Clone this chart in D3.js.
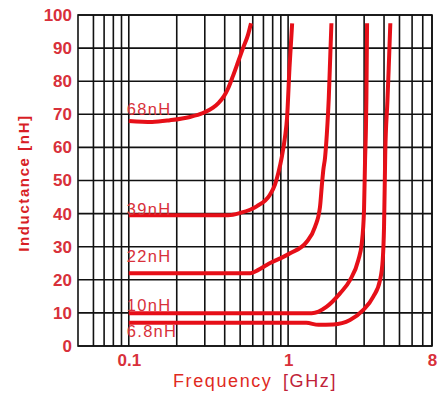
<!DOCTYPE html>
<html>
<head>
<meta charset="utf-8">
<script src="https://cdn.jsdelivr.net/npm/d3@7"></script>
<style>
  body { margin: 0; background: #fff; }
  svg { display: block; }
</style>
</head>
<body>
<script>
// inductance vs frequency
var yTicks = [0, 10, 20, 30, 40, 50, 60, 70, 80, 90, 100];
var xTickLabels = [0.1, 1, 8];
var xGrid = [0.06, 0.07, 0.08, 0.09, 0.1, 0.2, 0.3, 0.4, 0.5, 0.6, 0.7, 0.8, 0.9,
             1, 2, 3, 4, 5, 6, 7, 8];

var seriesNames = ["68nH", "39nH", "22nH", "10nH", "6.8nH"];

var freq68 = [0.1, 0.14, 0.181, 0.242, 0.292, 0.338, 0.365, 0.395, 0.42, 0.451, 0.485, 0.521, 0.56, 0.585];
var ind68  = [68,  67.7, 68.2,  69.2,  70.4,  72,    73.4,  75.4,  77.8, 81.6,  85.8,  90,    94,   97.5];

var freq39 = [0.1, 0.42, 0.5,  0.635, 0.769, 0.828, 0.868, 0.912, 0.955, 0.985, 1.02, 1.06];
var ind39  = [39.5, 39.5, 40.2, 42.2, 45.7,  48.8,  52.3,  57,    63,    69,    84,   97.5];

var freq22 = [0.1, 0.58, 0.65, 0.734, 1.028, 1.309, 1.475, 1.585, 1.626, 1.663, 1.706, 1.75, 1.8, 1.84, 1.87];
var ind22  = [22,  22,   23,   24.5,  28,    31.5,  36,    42,    48.2,  53.2,  57,    64,   75,  88,   97.5];

var freq10 = [0.1, 1.406, 1.747, 2.117, 2.446, 2.759, 2.899, 2.995, 3.04, 3.08, 3.1, 3.13];
var ind10  = [9.9, 9.9,   11.9,  15.9,  19.9,  26,    31,    41,    56,   66,   75,  97.5];

var freq6 = [0.1, 1.3, 1.55, 1.92, 2.446, 2.966, 3.425, 3.775, 3.925, 4.0, 4.07, 4.2, 4.28, 4.38];
var ind6  = [7.0, 7.0, 6.4,  6.5,  7.85,  10.9,  14.9,  19.9,  26,    36,  58,   74,  84,   97.5];

var series = [
  {name: seriesNames[0], f: freq68, v: ind68},
  {name: seriesNames[1], f: freq39, v: ind39},
  {name: seriesNames[2], f: freq22, v: ind22},
  {name: seriesNames[3], f: freq10, v: ind10},
  {name: seriesNames[4], f: freq6,  v: ind6}
];
// label baseline offsets from the flat part of each curve (px above, negative = below)
var labelDy = [6, 0, 11, 2, -14];

var width = 444, height = 397;
var red = "#e60f18", textRed = "#d8303a";

var svg = d3.select("body").append("svg")
    .attr("width", width)
    .attr("height", height);

var x = d3.scaleLog().domain([0.048, 8]).range([78, 432]);
var y = d3.scaleLinear().domain([0, 100]).range([346, 15]);

// grid
var grid = svg.append("g").attr("stroke", "#111").attr("stroke-width", 1.6);
grid.selectAll("line.v")
    .data(xGrid)
  .enter().append("line")
    .attr("class", "v")
    .attr("x1", function(d) { return x(d); })
    .attr("x2", function(d) { return x(d); })
    .attr("y1", y(0))
    .attr("y2", y(100));
grid.selectAll("line.h")
    .data(yTicks)
  .enter().append("line")
    .attr("class", "h")
    .attr("x1", x.range()[0])
    .attr("x2", x.range()[1])
    .attr("y1", function(d) { return y(d); })
    .attr("y2", function(d) { return y(d); });
grid.append("rect")
    .attr("x", x.range()[0])
    .attr("y", y(100))
    .attr("width", x.range()[1] - x.range()[0])
    .attr("height", y(0) - y(100))
    .attr("fill", "none");

// axes (labels only)
var yAxis = svg.append("g")
    .attr("transform", "translate(" + x.range()[0] + ",0)")
    .call(d3.axisLeft(y).tickValues(yTicks).tickSize(0).tickPadding(6));
var xAxis = svg.append("g")
    .attr("transform", "translate(0," + y(0) + ")")
    .call(d3.axisBottom(x).tickValues(xTickLabels).tickSize(0).tickPadding(8)
      .tickFormat(function(d) { return String(d); }));
[yAxis, xAxis].forEach(function(a) {
  a.select(".domain").remove();
  a.selectAll("text")
      .attr("fill", textRed)
      .style("font-family", "Liberation Sans, Arial, sans-serif")
      .style("font-size", "17px")
      .style("font-weight", "bold");
});

// curves
var line = d3.line()
    .x(function(d) { return x(d[0]); })
    .y(function(d) { return y(d[1]); })
    .curve(d3.curveMonotoneX);

svg.append("g").selectAll("path")
    .data(series)
  .enter().append("path")
    .attr("d", function(s) { return line(s.f.map(function(f, i) { return [f, s.v[i]]; })); })
    .attr("fill", "none")
    .attr("stroke", red)
    .attr("stroke-width", 4)
    .attr("stroke-linejoin", "round");

svg.append("g").selectAll("text")
    .data(series)
  .enter().append("text")
    .attr("x", x(0.1) - 2)
    .attr("y", function(s, i) { return y(s.v[0]) - labelDy[i]; })
    .attr("fill", textRed)
    .style("font-family", "Liberation Sans, Arial, sans-serif")
    .style("font-size", "16.5px")
    .style("letter-spacing", "1.3px")
    .text(function(s) { return s.name; });

// titles
svg.append("text")
    .attr("transform", "translate(29,183) rotate(-90)")
    .attr("text-anchor", "middle")
    .attr("fill", "#d81e26")
    .style("font-family", "Liberation Sans, Arial, sans-serif")
    .style("font-size", "15px")
    .style("font-weight", "bold")
    .style("letter-spacing", "1.6px")
    .text("Inductance [nH]");

svg.append("text")
    .attr("x", 173)
    .attr("y", 387)
    .attr("fill", "#e02a1e")
    .style("font-family", "Liberation Sans, Arial, sans-serif")
    .style("font-size", "18px")
    .style("letter-spacing", "1.6px")
    .text("Frequency");
svg.append("text")
    .attr("x", 283)
    .attr("y", 387)
    .attr("fill", "#c02238")
    .style("font-family", "Liberation Sans, Arial, sans-serif")
    .style("font-size", "18px")
    .style("letter-spacing", "1.6px")
    .text("[GHz]");
</script>
</body>
</html>
